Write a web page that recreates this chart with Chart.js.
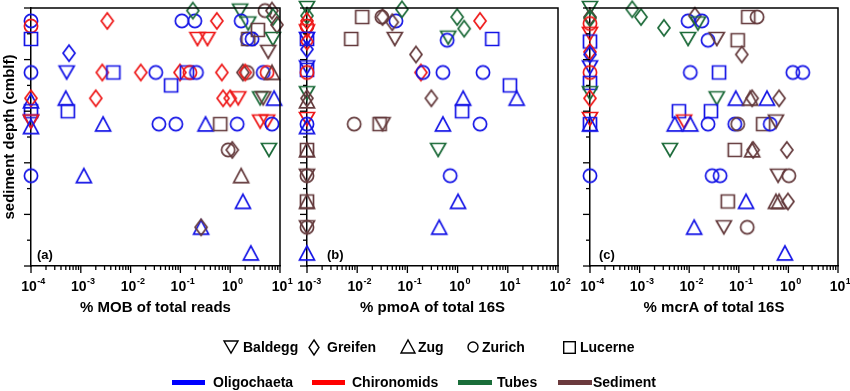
<!DOCTYPE html>
<html><head><meta charset="utf-8">
<script src="https://cdn.jsdelivr.net/npm/chart.js@4"></script>
<style>
body{margin:0;background:#fff;width:850px;height:391px;overflow:hidden;position:relative;font-family:'Liberation Sans',Arial,sans-serif;}
canvas{position:absolute;left:0;top:0;}
.t{position:absolute;font-weight:bold;font-size:14px;line-height:16px;color:#000;white-space:nowrap;}
.ln{position:absolute;height:5px;}
svg{position:absolute;overflow:visible;}
</style></head><body>
<canvas id="ca" width="850" height="391"></canvas>
<canvas id="cb" width="850" height="391"></canvas>
<canvas id="cc" width="850" height="391"></canvas>

<svg style="left:223px;top:340px" width="16" height="14"><polygon points="1,1 15,1 8,13" fill="none" stroke="#000" stroke-width="1.4"/></svg>
<div class="t" style="left:243px;top:339px">Baldegg</div>
<svg style="left:308px;top:339px" width="12" height="17"><polygon points="6,1 11,8.5 6,16 1,8.5" fill="none" stroke="#000" stroke-width="1.4"/></svg>
<div class="t" style="left:327px;top:339px">Greifen</div>
<svg style="left:400px;top:339px" width="16" height="15"><polygon points="1,14 15,14 8,1" fill="none" stroke="#000" stroke-width="1.4"/></svg>
<div class="t" style="left:418px;top:339px">Zug</div>
<svg style="left:467px;top:341px" width="12" height="12"><circle cx="6" cy="6" r="5" fill="none" stroke="#000" stroke-width="1.4"/></svg>
<div class="t" style="left:482px;top:339px">Zurich</div>
<svg style="left:563px;top:341px" width="13" height="13"><rect x="0.7" y="0.7" width="11.6" height="11.6" fill="none" stroke="#000" stroke-width="1.4"/></svg>
<div class="t" style="left:580px;top:339px">Lucerne</div>

<div class="ln" style="left:172px;top:380px;width:33px;background:#0000ff"></div>
<div class="t" style="left:213px;top:374px">Oligochaeta</div>
<div class="ln" style="left:312px;top:380px;width:33px;background:#ff0000"></div>
<div class="t" style="left:352px;top:374px">Chironomids</div>
<div class="ln" style="left:458px;top:380px;width:34px;background:#1a6e3a"></div>
<div class="t" style="left:497px;top:374px">Tubes</div>
<div class="ln" style="left:558px;top:380px;width:34px;background:#6b3a3d"></div>
<div class="t" style="left:593px;top:374px">Sediment</div>

<script>
// ---- categories ----
const lakes = ['B','G','Zg','Zr','L'];          // Baldegg, Greifen, Zug, Zurich, Lucerne
const groups = ['O','C','T','S'];               // Oligochaeta, Chironomids, Tubes, Sediment
const depthTicks = [0,1,2,3,4,5,6,7,8,9,10];

// ---- series: [lake, group, depth (cm), % value] ----
const mobData = [
 ['Zr','O',0.5,1e-4],['Zr','C',0.7,1e-4],['L','O',1.2,1e-4],['Zr','O',2.5,1e-4],
 ['Zg','O',3.6,1e-4],['G','C',3.5,1e-4],['L','O',4.0,1e-4],['B','O',4.4,1e-4],['B','C',4.4,1e-4],['Zg','O',4.6,1e-4],['Zr','O',6.5,1e-4],
 ['G','C',0.5,3.4e-3],['Zr','O',0.5,0.107],['Zr','O',0.5,0.195],['G','T',0.1,0.178],['G','C',0.5,0.54],
 ['B','T',0.1,1.58],['Zr','O',0.5,1.66],['B','T',0.6,2.3],['Zr','S',0.1,5.0],['G','S',0.1,6.9],['G','T',0.35,7.2],['G','S',0.65,8.7],
 ['B','C',1.2,0.22],['B','C',1.2,0.35],['Zr','O',1.2,2.2],['L','S',1.2,2.3],['Zr','O',1.2,2.75],['L','S',0.85,3.6],['B','T',1.2,7.2],['B','S',1.7,5.8],['G','O',1.75,5.8e-4],
 ['B','O',2.5,5.2e-4],['G','C',2.5,2.7e-3],['L','O',2.5,4.5e-3],['G','C',2.5,0.016],['Zr','O',2.5,0.032],['G','C',2.5,0.098],['L','O',2.5,0.135],['Zr','C',2.5,0.155],['Zr','O',2.5,0.21],['G','C',2.5,0.68],['G','S',2.5,1.8],['Zr','S',2.5,2.2],['G','C',2.5,2.0],['Zr','O',2.5,4.6],['Zr','C',2.5,5.5],['Zg','S',2.5,6.9],
 ['L','O',3.0,0.065],
 ['Zg','O',3.5,5.0e-4],['G','C',3.5,2.0e-3],['G','C',3.5,0.72],['G','C',3.5,1.0],['B','C',3.5,1.45],['B','T',3.5,4.0],['B','S',3.5,4.6],['Zg','O',3.5,7.6],
 ['L','O',4.0,5.5e-4],
 ['Zg','O',4.5,2.8e-3],['Zr','O',4.5,0.037],['Zr','O',4.5,0.081],['Zg','O',4.5,0.32],['L','S',4.5,0.63],['Zr','O',4.5,1.38],['B','C',4.4,4.0],['B','C',4.4,5.5],['Zr','O',4.5,6.9],
 ['Zr','S',5.5,0.91],['G','S',5.5,1.1],['B','T',5.5,6.0],
 ['Zg','O',6.5,1.15e-3],['Zg','S',6.5,1.66],['Zg','O',7.5,1.8],
 ['Zg','O',8.5,0.26],['G','S',8.5,0.26],['Zg','O',9.5,2.6]
];
const pmoaData = [
 ['B','T',0.0,1e-3],['G','T',0.3,1e-3],['G','C',0.5,1e-3],['Zr','C',0.7,1e-3],['B','C',0.9,1e-3],['L','O',1.2,1e-3],['B','O',1.2,1e-3],['G','C',1.3,1e-3],['G','O',1.6,1e-3],
 ['L','O',2.4,1e-3],['B','O',2.3,1e-3],['Zr','C',2.5,1e-3],['B','T',3.3,1e-3],['G','S',3.5,1e-3],['Zg','S',3.6,1e-3],['B','C',4.3,1e-3],['Zr','O',4.5,1e-3],['Zg','O',4.6,1e-3],
 ['L','S',5.5,1e-3],['Zg','S',5.5,1e-3],['B','S',6.5,1e-3],['Zr','S',6.5,1e-3],['L','S',7.5,1e-3],['Zg','S',7.5,1e-3],['B','S',8.5,1e-3],['Zr','S',8.5,1e-3],['Zg','O',9.5,1e-3],
 ['L','S',0.35,0.0126],['Zr','S',0.35,0.031],['G','S',0.35,0.032],['Zr','O',0.5,0.059],['G','S',0.55,0.05],['G','T',0.05,0.078],['G','T',0.35,0.98],['G','T',0.8,1.35],['G','C',0.5,2.8],
 ['L','S',1.2,7.6e-3],['B','S',1.2,0.056],['B','T',1.15,0.65],['Zr','O',1.25,0.62],['L','O',1.2,4.9],['G','S',1.8,0.148],
 ['G','C',2.5,0.186],['Zr','O',2.5,0.204],['Zr','O',2.5,0.51],['Zr','O',2.5,3.2],
 ['L','O',3.0,11],['Zg','O',3.5,15],['G','S',3.5,0.3],['Zg','O',3.5,1.29],['L','O',4.0,1.23],
 ['Zr','S',4.5,8.7e-3],['L','S',4.5,0.028],['B','S',4.5,0.032],['Zg','O',4.5,0.51],['Zr','O',4.5,2.8],
 ['B','T',5.5,0.41],['Zr','O',6.5,0.71],['Zg','O',7.5,1.02],['Zg','O',8.5,0.43]
];
const mcraData = [
 ['B','T',0.0,1e-4],['G','S',0.35,1e-4],['G','T',0.4,1e-4],['Zr','C',0.6,1e-4],['B','C',1.0,1e-4],['L','O',1.3,1e-4],['G','C',1.7,1e-4],['G','O',1.8,1e-4],
 ['B','O',2.3,1e-4],['Zr','C',2.5,1e-4],['L','O',2.9,1e-4],['B','T',3.3,1e-4],['G','C',3.5,1e-4],['B','C',4.3,1e-4],['Zg','O',4.5,1e-4],['L','O',4.5,1e-4],['Zr','O',6.5,1e-4],
 ['G','T',0.05,7.1e-4],['G','T',0.35,1.07e-3],['G','T',0.77,3.1e-3],['Zr','O',0.5,9.5e-3],['G','S',0.3,0.013],['Zr','O',0.5,0.018],['B','T',0.6,0.015],
 ['B','T',1.2,9.5e-3],['Zr','O',1.25,0.024],['B','S',1.2,0.036],['L','S',0.35,0.155],['Zr','S',0.35,0.234],['L','S',1.25,0.095],['G','S',1.8,0.115],
 ['Zr','O',2.5,0.0105],['L','O',2.5,0.04],['Zr','O',2.5,1.23],['Zr','O',2.5,1.95],
 ['B','T',3.5,0.036],['Zg','O',3.5,0.087],['Zg','S',3.5,0.17],['G','S',3.5,0.186],['Zg','O',3.5,0.37],['G','S',3.5,0.65],
 ['L','O',4.0,6.2e-3],['L','O',4.0,0.0275],
 ['Zg','O',4.5,5.1e-3],['B','C',4.4,7.9e-3],['Zg','O',4.5,0.0105],['Zr','O',4.5,0.024],['Zr','O',4.5,0.083],['Zr','S',4.5,0.095],['L','S',4.5,0.31],['Zr','O',4.5,0.43],['B','S',4.4,0.56],
 ['B','T',5.5,4.1e-3],['L','S',5.5,0.083],['Zg','S',5.5,0.186],['G','S',5.5,0.195],['G','S',5.5,0.93],
 ['Zr','O',6.5,0.029],['Zr','O',6.5,0.042],['B','S',6.5,0.62],['Zr','S',6.5,1.02],
 ['L','S',7.5,0.06],['Zg','O',7.5,0.14],['Zg','S',7.5,0.56],['Zg','S',7.5,0.65],['G','S',7.5,0.98],
 ['Zg','O',8.5,0.0126],['B','S',8.5,0.05],['Zr','S',8.5,0.148],['Zg','O',9.5,0.85]
];

// ---- styles ----
const groupColor = {O:'#1414e6', C:'#ee1818', T:'#1d6b3a', S:'#643a3c'};
const FONT = "'Liberation Sans', Arial, sans-serif";

function makeMarker(shape, color){
  const c = document.createElement('canvas'); c.width = 22; c.height = 22;
  const g = c.getContext('2d'); g.strokeStyle = color; g.lineWidth = 1.7; g.lineJoin='miter';
  g.beginPath();
  if (shape === 'B'){ g.moveTo(3.5,4.5); g.lineTo(18.5,4.5); g.lineTo(11,17.5); g.closePath(); }
  else if (shape === 'Zg'){ g.moveTo(3.5,17.8); g.lineTo(18.5,17.8); g.lineTo(11,3.8); g.closePath(); }
  else if (shape === 'G'){ g.moveTo(11,3); g.lineTo(17,11); g.lineTo(11,19); g.lineTo(5,11); g.closePath(); }
  else if (shape === 'Zr'){ g.arc(11,11,6.6,0,Math.PI*2); }
  else { g.rect(4.5,4.5,13,13); }
  g.stroke();
  return c;
}
const markers = {};
lakes.forEach(l => groups.forEach(gr => { markers[l+gr] = makeMarker(l, groupColor[gr]); }));

const decor = {
  id: 'decor',
  afterDraw(chart, args, o){
    const ctx = chart.ctx, ca = chart.chartArea, xs = chart.scales.x, ys = chart.scales.y;
    ctx.save();
    ctx.strokeStyle = '#000';
    const ln = (a,b,c,d) => { ctx.beginPath(); ctx.moveTo(a,b); ctx.lineTo(c,d); ctx.stroke(); };
    ctx.lineWidth = 1.5;
    ctx.beginPath(); ctx.moveTo(ca.left-0.75, ca.top); ctx.lineTo(ca.right, ca.top); ctx.lineTo(ca.right, ca.bottom); ctx.stroke();
    ctx.lineWidth = 1.3;
    const lo = Math.round(Math.log10(xs.min)), hi = Math.round(Math.log10(xs.max));
    ctx.fillStyle = '#000';
    for (let e = lo; e <= hi; e++){
      const px = xs.getPixelForValue(Math.pow(10,e));
      ln(px, ca.bottom, px, ca.bottom+7);
      if (e < hi) for (let m = 2; m <= 9; m++){ const p = xs.getPixelForValue(m*Math.pow(10,e)); ln(p, ca.bottom, p, ca.bottom+4); }
      ctx.font = 'bold 14px ' + FONT; const w1 = ctx.measureText('10').width;
      const es = String(e);
      ctx.font = 'bold 9px ' + FONT; const w2 = ctx.measureText(es).width;
      const x0 = px - (w1+w2)/2 + 2;
      ctx.textBaseline = 'alphabetic'; ctx.textAlign = 'left';
      ctx.font = 'bold 14px ' + FONT; ctx.fillText('10', x0, 291);
      ctx.font = 'bold 9px ' + FONT; ctx.fillText(es, x0 + w1 + 0.5, 284);
    }
    depthTicks.forEach(d => {
      const py = ys.getPixelForValue(d);
      if (d % 2 === 0) ln(ca.left-7, py, ca.left, py); else ln(ca.left-4, py, ca.left, py);
    });
    ctx.font = 'bold 15px ' + FONT; ctx.textAlign = 'center';
    ctx.fillText(o.xTitle, (ca.left+ca.right)/2, 312);
    ctx.font = 'bold 13px ' + FONT; ctx.textAlign = 'left';
    ctx.fillText(o.tag, ca.left + o.tagDx, 259);
    if (o.yTitle){
      ctx.save(); ctx.translate(14, (ca.top+ca.bottom)/2); ctx.rotate(-Math.PI/2);
      ctx.font = 'bold 15px ' + FONT; ctx.textAlign = 'center'; ctx.fillText(o.yTitle, 0, 0);
      ctx.restore();
    }
    ctx.restore();
  }
};

function build(id, pts, xmin, xmax, left, right, xTitle, tag, tagDx, yTitle){
  new Chart(document.getElementById(id), {
    type: 'scatter',
    data: { datasets: [{
      data: pts.map(p => ({x: p[3], y: p[2]})),
      pointStyle: pts.map(p => markers[p[0]+p[1]]),
      pointRadius: 7, clip: false
    }]},
    options: {
      responsive: false, animation: false, events: [],
      layout: { padding: { left: left, right: 850-right, top: 6, bottom: 391-266 } },
      plugins: { legend: {display:false}, tooltip: {enabled:false}, decor: {xTitle, tag, tagDx, yTitle} },
      scales: {
        x: { type: 'logarithmic', min: xmin, max: xmax, ticks: {display:false}, grid: {display:false},
             border: {display:true, color:'#000', width:1.5}, afterFit: s => { s.height = 0; } },
        y: { type: 'linear', reverse: true, min: 0, max: 10, ticks: {display:false}, grid: {display:false},
             border: {display:true, color:'#000', width:1.5}, afterFit: s => { s.width = 0; } }
      }
    },
    plugins: [decor]
  });
}
build('ca', mobData, 1e-4, 10, 31, 280, '% MOB of total reads', '(a)', 6, 'sediment depth (cmblf)');
build('cb', pmoaData, 1e-3, 100, 307, 558, '% pmoA of total 16S', '(b)', 20, null);
build('cc', mcraData, 1e-4, 10, 590, 838, '% mcrA of total 16S', '(c)', 9, null);
</script>
</body></html>
